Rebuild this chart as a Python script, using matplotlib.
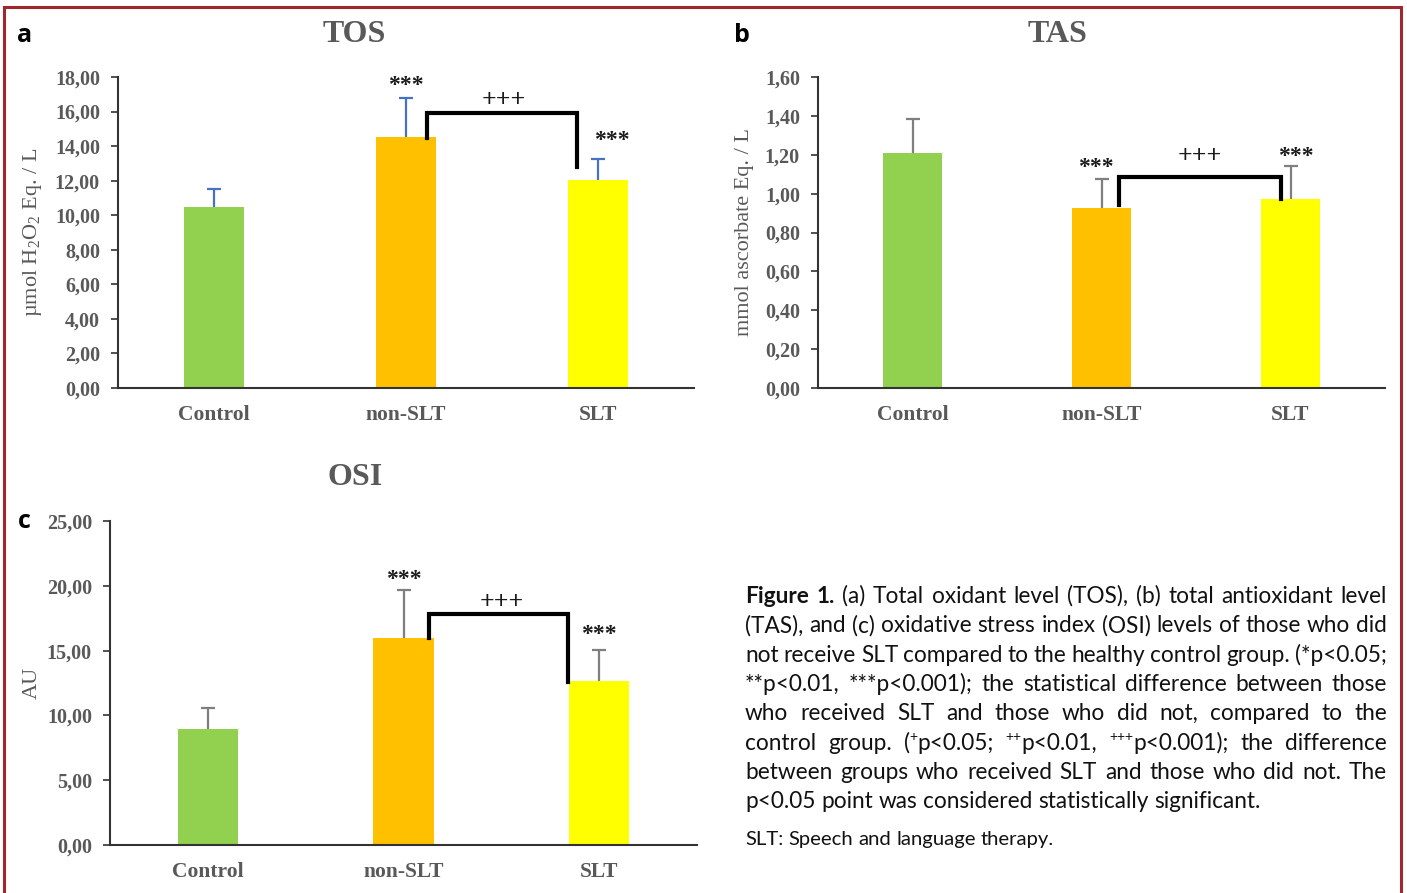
import re
import numpy as np
import matplotlib
matplotlib.use('Agg')
import matplotlib.pyplot as plt
from matplotlib.patches import Rectangle
from matplotlib.transforms import IdentityTransform
from matplotlib.ticker import FuncFormatter

W, H = 1407, 893

groups = ['Control', 'non-SLT', 'SLT']
bar_colors = ['#92D050', '#FFC000', '#FFFF00']

tos_mean = [10.49, 14.54, 12.04]
tos_sd = [1.03, 2.26, 1.19]
tas_mean = [1.21, 0.924, 0.974]
tas_sd = [0.172, 0.151, 0.170]
osi_mean = [8.92, 15.97, 12.68]
osi_sd = [1.67, 3.67, 2.37]

# bracket: x start, x end, y at start, y top, y at end
tos_bracket = [1.11, 1.89, 14.47, 15.9, 12.8]
tas_bracket = [1.09, 1.95, 0.941, 1.087, 0.971]
osi_bracket = [1.13, 1.84, 15.97, 17.82, 12.6]

# "***" marks (x, y) and "+++" mark (x, y)
tos_stars = [(1.0, 17.73), (2.07, 14.54)]
tos_plus = (1.51, 16.9)
tas_stars = [(0.97, 1.157), (2.03, 1.215)]
tas_plus = (1.52, 1.21)
osi_stars = [(1.0, 20.83), (2.0, 16.59)]
osi_plus = (1.5, 19.03)

caption = [
    "Figure 1. (a) Total oxidant level (TOS), (b) total antioxidant level",
    "(TAS), and (c) oxidative stress index (OSI) levels of those who did",
    "not receive SLT compared to the healthy control group. (*p<0.05;",
    "**p<0.01, ***p<0.001); the statistical difference between those",
    "who received SLT and those who did not, compared to the",
    "control group. (^+p<0.05; ^++p<0.01, ^+++p<0.001); the difference",
    "between groups who received SLT and those who did not. The",
    "p<0.05 point was considered statistically significant.",
]
footnote = "SLT: Speech and language therapy."

plt.rcParams['font.family'] = 'Liberation Serif'
plt.rcParams['mathtext.fontset'] = 'custom'
plt.rcParams['mathtext.rm'] = 'Liberation Serif'
plt.rcParams['mathtext.default'] = 'regular'

GRAY = '#595959'


def fx(x):
    return x / W


def fy(y):
    return 1 - y / H


def mark(ax, pos, s, size):
    ax.annotate(s, pos, xytext=(0, -3), textcoords='offset points', ha='center',
                va='center', fontsize=size, fontweight='bold', color='#1a1a1a')


def draw_panel(ax, mean, sd, ecolor, ymax, step, bracket, stars, plus, ylabel, ylab_x):
    x = np.arange(len(groups))
    ax.bar(x, mean, width=0.31, color=bar_colors, zorder=2)
    eb = ax.errorbar(x, mean, yerr=[[0] * len(sd), sd], fmt='none', ecolor=ecolor,
                     elinewidth=1.6, capsize=5, capthick=1.6, zorder=3)
    for cl in eb[1]:
        if np.allclose(cl.get_ydata(), mean):
            cl.set_visible(False)
    b = bracket
    ax.plot([b[0], b[0], b[1], b[1]], [b[2], b[3], b[3], b[4]], color='black',
            lw=3, solid_joinstyle='miter', zorder=4)
    for st in stars:
        mark(ax, st, '***', 17)
    mark(ax, plus, '+++', 18.5)
    ax.set_xlim(-0.5, 2.5)
    ax.set_ylim(0, ymax)
    ax.set_yticks(np.arange(0, ymax + step / 2, step))
    ax.yaxis.set_major_formatter(FuncFormatter(lambda v, p: f'{v:.2f}'.replace('.', ',')))
    ax.set_xticks(x)
    ax.set_xticklabels(groups)
    for sp in ['top', 'right']:
        ax.spines[sp].set_visible(False)
    for sp in ['left', 'bottom']:
        ax.spines[sp].set_color('#333333')
        ax.spines[sp].set_linewidth(1.5)
    ax.tick_params(axis='y', direction='out', length=5, width=1.2, pad=8,
                   labelsize=14.5, labelcolor=GRAY, color='#333333')
    ax.tick_params(axis='x', length=0, pad=12, labelsize=15.5, labelcolor=GRAY)
    for lbl in ax.get_xticklabels() + ax.get_yticklabels():
        lbl.set_fontweight('bold')
    ax.text(ylab_x, 0.5, ylabel, transform=ax.transAxes, rotation=90,
            ha='center', va='center', fontsize=16, color=GRAY)


fig = plt.figure(figsize=(W / 100, H / 100), dpi=100)

ax_a = fig.add_axes([fx(118), fy(388), fx(694) - fx(118), (388 - 77) / H])
ax_b = fig.add_axes([fx(818), fy(388), fx(1385) - fx(818), (388 - 77) / H])
ax_c = fig.add_axes([fx(110), fy(845), fx(697) - fx(110), (845 - 521) / H])

draw_panel(ax_a, tos_mean, tos_sd, '#4472C4', 18, 2, tos_bracket, tos_stars, tos_plus,
           r'µmol H$_2$O$_2$ Eq. / L', -0.148)
draw_panel(ax_b, tas_mean, tas_sd, '#7F7F7F', 1.6, 0.2, tas_bracket, tas_stars, tas_plus,
           'mmol ascorbate Eq. / L', -0.129)
draw_panel(ax_c, osi_mean, osi_sd, '#7F7F7F', 25, 5, osi_bracket, osi_stars, osi_plus,
           'AU', -0.133)

# panel titles
fig.text(fx(354), fy(42), 'TOS', ha='center', va='baseline', fontsize=23,
         fontweight='bold', color=GRAY)
fig.text(fx(1057), fy(42), 'TAS', ha='center', va='baseline', fontsize=23,
         fontweight='bold', color=GRAY)
fig.text(fx(355), fy(485), 'OSI', ha='center', va='baseline', fontsize=23,
         fontweight='bold', color=GRAY)

# panel letters
for letter, lx, ly in [('a', 25, 42), ('b', 742, 42), ('c', 24, 528)]:
    fig.text(fx(lx), fy(ly), letter, ha='center', va='baseline', fontsize=18,
             fontweight='bold', family='Open Sans', color='black')

# frame
fig.patches.append(Rectangle((fx(4), fy(950)), fx(1401) - fx(4), fy(7) - fy(950),
                             transform=fig.transFigure, fill=False,
                             edgecolor='#A0272D', lw=2.2))

# caption with justified lines
r = fig.canvas.get_renderer()
cap_font = 'Lato'


def text_width(s, size, weight='normal'):
    t = fig.text(0, 0, s, fontsize=size, family=cap_font, fontweight=weight)
    w = t.get_window_extent(r).width
    t.remove()
    return w


cap_size = 10 * 517 / text_width(caption[-1], 10)
foot_size = 10 * 309 / text_width(footnote, 10)
x0, x1 = 745, 1387


def caption_line(s, base_y, size, justify, nbold=0):
    words = s.split(' ')
    items = []
    for i, w in enumerate(words):
        parts = re.split(r'\^(\++)', w)
        segs = []
        for k, p in enumerate(parts):
            if p:
                sup = k % 2 == 1
                fs = size * 0.62 if sup else size
                weight = 'bold' if i < nbold else 'normal'
                t = fig.text(0, 0, p, fontsize=fs, family=cap_font, fontweight=weight,
                             color='#111111', transform=IdentityTransform(),
                             va='baseline', ha='left')
                segs.append((t, t.get_window_extent(r).width, sup))
        items.append(segs)
    wsum = sum(sum(s_[1] for s_ in segs) for segs in items)
    if justify and len(items) > 1:
        gap = (x1 - x0 - wsum) / (len(items) - 1)
    else:
        gap = text_width('a a', size) - text_width('aa', size)
    x = x0
    yb = H - base_y
    for segs in items:
        for t, w, sup in segs:
            t.set_position((x, yb + (size * 0.36 * 100 / 72 if sup else 0)))
            x += w
        x += gap


for i, line in enumerate(caption):
    caption_line(line, 603 + i * 29.3, cap_size, i < len(caption) - 1,
                 nbold=2 if i == 0 else 0)
caption_line(footnote, 845, foot_size, False)

fig.savefig('out.png', dpi=100)
